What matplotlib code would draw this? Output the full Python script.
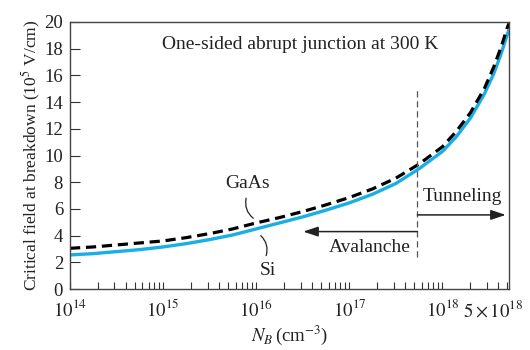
import numpy as np
import matplotlib
matplotlib.use("Agg")
import matplotlib.pyplot as plt
from matplotlib.ticker import LogLocator, NullFormatter

plt.rcParams['font.family'] = ['Liberation Serif', 'DejaVu Serif']
plt.rcParams['mathtext.fontset'] = 'stix'

# doping concentration (cm^-3) and critical field (1e5 V/cm)
nb = [1e14, 1.78e14, 3.16e14, 5.6e14, 1e15, 1.78e15, 3.16e15, 5.6e15,
      1e16, 1.78e16, 3.16e16, 5.6e16, 1e17, 1.78e17, 3.16e17, 5.6e17,
      1e18, 1.41e18, 2e18, 2.82e18, 3.55e18, 4.27e18, 5.0e18, 5.2e18]
si = [2.55, 2.65, 2.8, 2.95, 3.15, 3.4, 3.7, 4.05,
      4.5, 4.95, 5.4, 5.9, 6.45, 7.1, 7.9, 9.0,
      10.3, 11.4, 12.8, 14.6, 16.1, 17.6, 19.1, 19.4]
gaas = [3.05, 3.15, 3.3, 3.45, 3.6, 3.85, 4.15, 4.5,
        4.95, 5.35, 5.8, 6.3, 6.85, 7.5, 8.3, 9.35,
        10.65, 11.8, 13.2, 15.0, 16.6, 18.1, 19.6, 19.9]

boundary = 5.4e17
xticks = [1e14, 1e15, 1e16, 1e17, 1e18, 5e18]
xlabels = ['$10^{14}$', '$10^{15}$', '$10^{16}$', '$10^{17}$', '$10^{18}$', '']
yticks = list(range(0, 21, 2))

fig = plt.figure(figsize=(5.3, 3.5), dpi=100)
ax = fig.add_axes([70 / 530, 1 - 289 / 350, 439 / 530, 267 / 350])

ax.plot(nb, si, color='#1aaee6', lw=2.4, solid_capstyle='butt')
ax.plot(nb, gaas, color='black', lw=2.3, dashes=(3.2, 1.8))

# avalanche / tunneling boundary
ax.plot([boundary, boundary], [2.4, 14.9], color='#555555', lw=0.9, dashes=(5, 3))
ax.annotate('', xy=(3.2e16, 4.3), xytext=(boundary, 4.3),
            arrowprops=dict(arrowstyle='-|>,head_length=0.9,head_width=0.3',
                            color='#222222', lw=1.1, shrinkA=0, shrinkB=0))
ax.annotate('', xy=(4.8e18, 5.55), xytext=(boundary, 5.55),
            arrowprops=dict(arrowstyle='-|>,head_length=0.9,head_width=0.3',
                            color='#222222', lw=1.1, shrinkA=0, shrinkB=0))

ax.text(4.6e17, 3.1, 'Avalanche', ha='right', va='center', fontsize=14, color='#222222')
ax.text(6.1e17, 6.95, 'Tunneling', ha='left', va='center', fontsize=14, color='#222222')
ax.text(0.524, 18.3, 'One-sided abrupt junction at 300 K', ha='center', va='center',
        fontsize=14, color='#222222', transform=ax.get_yaxis_transform())

# curve labels with leader lines
ax.text(8e15, 7.9, 'GaAs', ha='center', va='center', fontsize=14, color='#222222')
ax.annotate('', xy=(9.3e15, 5.3), xytext=(7.8e15, 6.8),
            arrowprops=dict(arrowstyle='-', color='#222222', lw=0.9,
                            connectionstyle='arc3,rad=0.3', shrinkA=0, shrinkB=0))
ax.text(1.35e16, 1.4, 'Si', ha='center', va='center', fontsize=14, color='#222222')
ax.annotate('', xy=(1.12e16, 4.0), xytext=(1.28e16, 2.5),
            arrowprops=dict(arrowstyle='-', color='#222222', lw=0.9,
                            connectionstyle='arc3,rad=0.3', shrinkA=0, shrinkB=0))

ax.set_xscale('log')
ax.set_xlim(1e14, 5.2e18)
ax.set_ylim(0, 20)
ax.set_xticks(xticks)
ax.set_xticklabels(xlabels)
ax.xaxis.set_minor_locator(LogLocator(base=10, subs=np.arange(2, 10)))
ax.xaxis.set_minor_formatter(NullFormatter())
ax.set_yticks(yticks)

ax.tick_params(axis='both', which='both', direction='in', colors='#333333',
               labelsize=13.5, labelcolor='#222222')
ax.tick_params(axis='x', which='both', length=5, width=0.8, pad=7.5)
ax.tick_params(axis='y', length=7, width=0.8, pad=5)
ax.annotate('$5\\times10^{18}$', xy=(5e18, 0), xytext=(-10, -7.5),
            textcoords='offset points', ha='center', va='top', fontsize=13.5,
            color='#222222', annotation_clip=False)
for s in ax.spines.values():
    s.set_color('#444444')
    s.set_linewidth(1.0)

ax.set_xlabel('$N_B\\,$(cm$^{-3}$)', fontsize=13.5, color='#222222', labelpad=2)
ax.set_ylabel('Critical field at breakdown (10$^5$ V/cm)', fontsize=12.5,
              color='#222222', labelpad=1)

fig.savefig('out.png', dpi=100)
